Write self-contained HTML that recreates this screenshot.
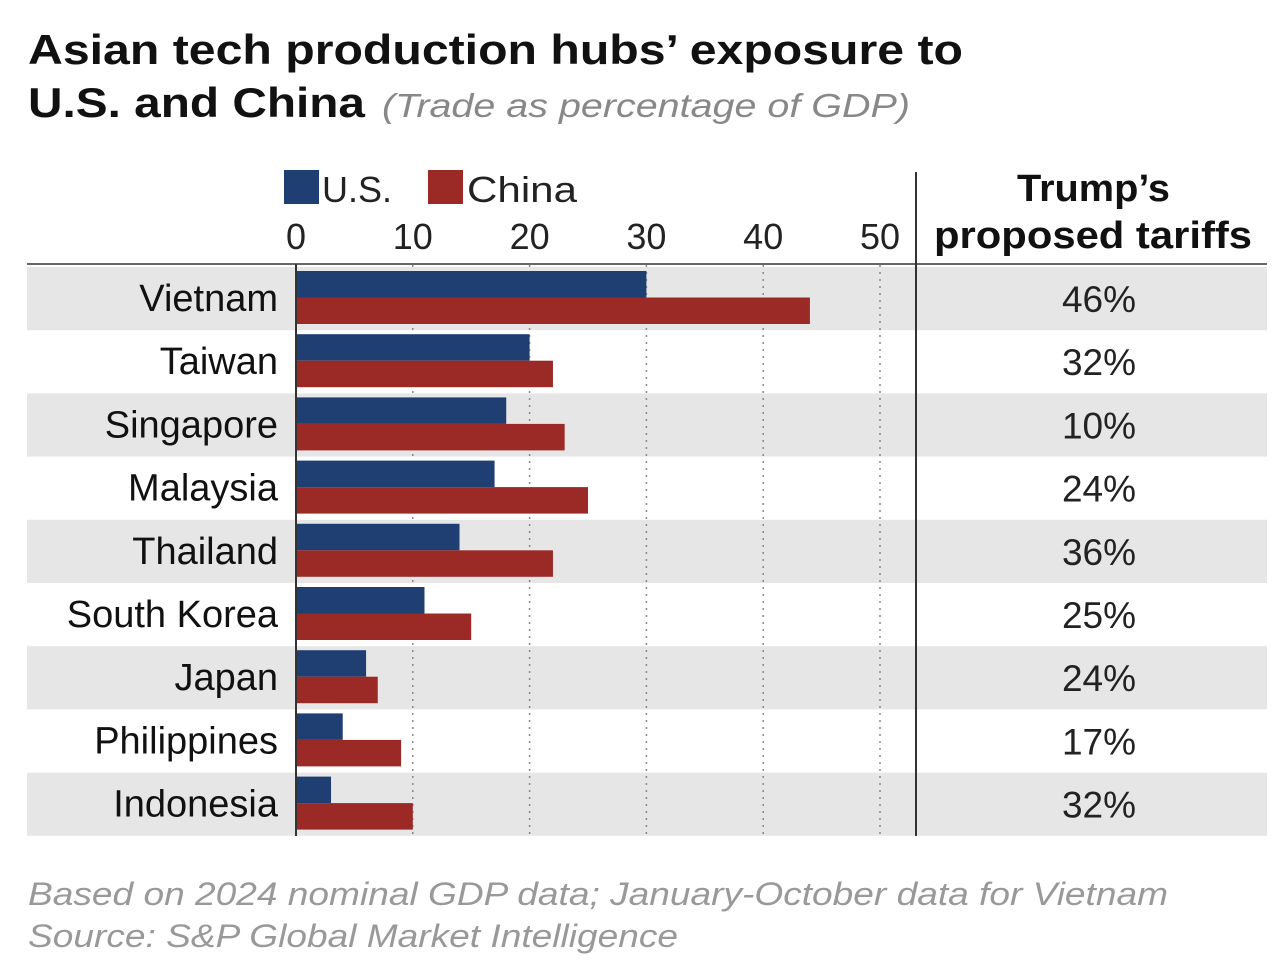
<!DOCTYPE html>
<html><head><meta charset="utf-8"><style>
body{margin:0;background:#fff;width:1286px;height:960px;overflow:hidden;font-family:"Liberation Sans",sans-serif;}
svg text{font-family:"Liberation Sans",sans-serif;}
</style></head><body>
<svg id="chart" width="1286" height="960" xmlns="http://www.w3.org/2000/svg">
<text x="28" y="64" font-size="42" font-weight="bold" fill="#111" textLength="935" lengthAdjust="spacingAndGlyphs">Asian tech production hubs’ exposure to</text>
<text x="28" y="117" font-size="42" font-weight="bold" fill="#111" textLength="337" lengthAdjust="spacingAndGlyphs">U.S. and China</text>
<text x="382" y="117" font-size="33" font-style="italic" fill="#888" textLength="528" lengthAdjust="spacingAndGlyphs">(Trade as percentage of GDP)</text>
<rect x="284" y="170" width="35" height="34" fill="#1f3f73"/>
<text x="322" y="202" font-size="36" fill="#222">U.S.</text>
<rect x="428" y="170" width="35" height="34" fill="#9b2a26"/>
<text x="467" y="202" font-size="36" fill="#222" textLength="110" lengthAdjust="spacingAndGlyphs">China</text>
<text x="1017" y="201" font-size="38" font-weight="bold" fill="#111" textLength="153" lengthAdjust="spacingAndGlyphs">Trump’s</text>
<text x="934" y="248" font-size="38" font-weight="bold" fill="#111" textLength="318" lengthAdjust="spacingAndGlyphs">proposed tariffs</text>
<g id="rows"></g><g id="grid"></g><g id="bars"></g><g id="labels"></g>
<line x1="27" y1="264" x2="1267" y2="264" stroke="#666" stroke-width="2"/>
<line x1="296" y1="264" x2="296" y2="836" stroke="#333" stroke-width="2"/>
<line x1="916" y1="172" x2="916" y2="836" stroke="#333" stroke-width="2"/>
<text x="28" y="905" font-size="32" font-style="italic" fill="#999" textLength="1140" lengthAdjust="spacingAndGlyphs">Based on 2024 nominal GDP data; January-October data for Vietnam</text>
<text x="28" y="947" font-size="32" font-style="italic" fill="#999" textLength="650" lengthAdjust="spacingAndGlyphs">Source: S&amp;P Global Market Intelligence</text>
</svg>
<script>
const countries=["Vietnam","Taiwan","Singapore","Malaysia","Thailand","South Korea","Japan","Philippines","Indonesia"];
const usValues=[30,20,18,17,14,11,6,4,3];
const chinaValues=[44,22,23,25,22,15,7,9,10];
const tariffs=["46%","32%","10%","24%","36%","25%","24%","17%","32%"];
const ticks=[0,10,20,30,40,50];
const NS="http://www.w3.org/2000/svg";
const x=v=>296+v*11.68;
const rowTop=i=>267+i*63.2;
function mk(tag,attrs,parent,txt){const e=document.createElementNS(NS,tag);for(const k in attrs)e.setAttribute(k,attrs[k]);if(txt!==undefined)e.textContent=txt;document.getElementById(parent).appendChild(e);return e;}
countries.forEach((c,i)=>{
 const t=rowTop(i);
 if(i%2===0){const r=mk('rect',{x:27,y:t,width:1240,height:63.2,fill:'#e6e6e6'},'rows');
  
  }
 const b1=mk('rect',{x:x(0)+1,y:t+4,width:x(usValues[i])-x(0)-1,height:26.5,fill:'#1f3f73'},'bars');
 
 
 const b2=mk('rect',{x:x(0)+1,y:t+30.5,width:x(chinaValues[i])-x(0)-1,height:26.5,fill:'#9b2a26'},'bars');
 
 
 const l=mk('text',{x:278,y:t+44,'font-size':38,'text-anchor':'end',fill:'#111'},'labels',c);
 
 
 const p=mk('text',{x:1099,y:t+45,'font-size':37,'text-anchor':'middle',fill:'#222'},'labels',tariffs[i]);
 
 
});
ticks.forEach(v=>{
 if(v>0){const g=mk('line',{x1:x(v),y1:265,x2:x(v),y2:836,stroke:'#888','stroke-width':1.5,'stroke-dasharray':'2,5'},'grid');
  
  }
 const t=mk('text',{x:x(v),y:249,'font-size':36,'text-anchor':'middle',fill:'#222'},'labels',String(v));
 
 
});
</script>
</body></html>
